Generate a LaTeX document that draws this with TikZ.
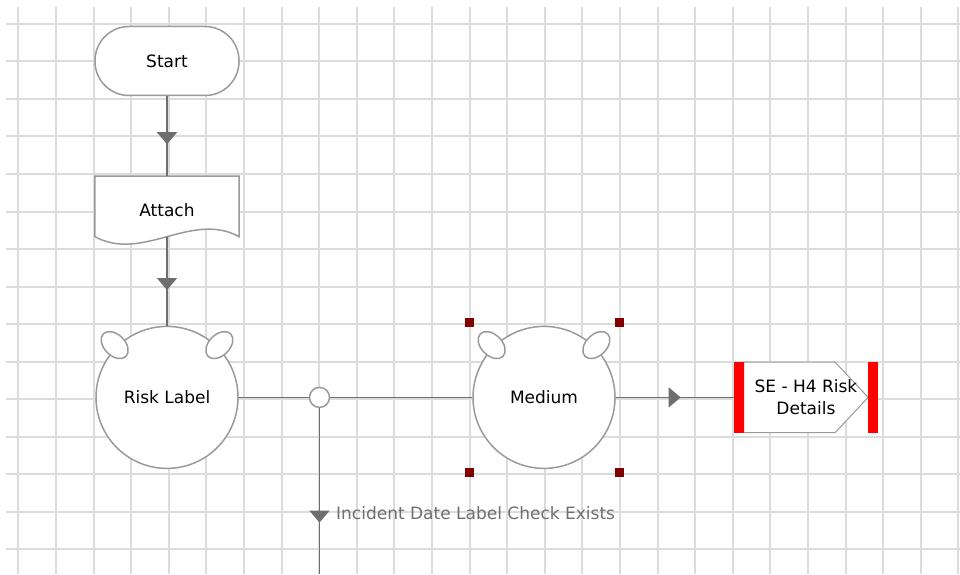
\documentclass[tikz,border=0pt]{standalone}
\usepackage{fontspec}
\setmainfont{DejaVu Sans}
\usepackage{tikz}
\usetikzlibrary{arrows.meta,positioning,calc,shapes.geometric,decorations.markings}

\definecolor{gridgray}{HTML}{DCDCDC}
\definecolor{edgegray}{HTML}{9A9A9A}
\definecolor{linegray}{HTML}{6E6E6E}
\definecolor{handlered}{HTML}{800000}

\begin{document}
\begin{tikzpicture}[x=1pt,y=1pt,
    every node/.style={font=\fontsize{17}{22}\selectfont},
    gridline/.style={draw=gridgray,line width=2pt},
    terminal/.style={rectangle,draw=edgegray,line width=1.5pt,fill=white,rounded corners=34pt,minimum width=144pt,minimum height=69pt},
    docbox/.style={rectangle,minimum width=144pt,minimum height=60pt,inner sep=0pt},
    state/.style={circle,draw=edgegray,line width=1.5pt,fill=white,minimum size=142pt,inner sep=0pt},
    ear/.style={ellipse,draw=edgegray,line width=1.5pt,fill=white,minimum width=32pt,minimum height=21pt,inner sep=0pt},
    joint/.style={circle,draw=edgegray,line width=1.5pt,fill=white,minimum size=20pt,inner sep=0pt},
    handle/.style={rectangle,fill=handlered,minimum size=9pt,inner sep=0pt},
    subproc/.style={rectangle,minimum width=144pt,minimum height=70pt,inner sep=0pt,align=center},
    conn/.style={draw=linegray,line width=1.6pt},
    flow/.style={conn,postaction={decorate},decoration={markings,
        mark=at position #1 with {\arrow[linegray]{Triangle[width=20pt,length=12pt]}}}},
    flow/.default=0.5,
    lbl/.style={text=linegray,inner sep=0pt}]

    \useasboundingbox (0,0) rectangle (960,574);

    % grid
    \foreach \k in {0,...,14}
        \draw[gridline] (6,550-37.5*\k) -- (960,550-37.5*\k);
    \foreach \k in {0,...,25}
        \draw[gridline] (18.3+37.6*\k,567) -- (18.3+37.6*\k,0);

    % nodes
    \node [terminal] (start) at (167,513) {Start};
    \node [docbox, below=80pt of start] (attach) {};
    \node [state, below=89pt of attach] (risk) {Risk Label};
    \node [joint, right=70pt of risk] (junction) {};
    \node [state, right=142pt of junction] (medium) {Medium};
    \node [subproc, right=118pt of medium] (se) {};
    \coordinate (down) at (junction |- 0,0);

    % document shape
    \draw[draw=edgegray,line width=1.5pt,fill=white]
        (attach.north west) -- (attach.north east) -- (attach.south east)
        .. controls +(-48,26) and +(48,-26) .. (attach.south west) -- cycle;
    \node at ([yshift=-4pt]attach.center) {Attach};

    % sub process shape
    \draw[draw=edgegray,line width=1pt,fill=white]
        ([xshift=10pt]se.north west) -- ([xshift=-43pt]se.north east)
        -- ([xshift=-10pt]se.east) -- ([xshift=-43pt]se.south east)
        -- ([xshift=10pt]se.south west) -- cycle;
    \fill[red] (se.north west) rectangle ([xshift=10pt]se.south west);
    \fill[red] ([xshift=-10pt]se.north east) rectangle (se.south east);
    \node [subproc] at (se.center) {SE - H4 Risk\\Details};

    % ears
    \foreach \a in {45,135} {
        \node [ear, rotate=\a] (riskear\a) at ($(risk.center)+(\a:74pt)$) {};
        \node [ear, rotate=\a] (mediumear\a) at ($(medium.center)+(\a:74pt)$) {};
    }

    % selection handles
    \foreach \dx/\dy in {-75/75,75/75,-75/-75,75/-75}
        \node [handle] at ($(medium.center)+(\dx pt,\dy pt)$) {};

    % connectors
    \draw[flow=0.6] (start) -- (attach);
    \draw[flow=0.6] (attach) -- (risk);
    \draw[conn] (risk) -- (junction);
    \draw[conn] (junction) -- (medium);
    \draw[flow=0.55] (medium) -- (se);
    \draw[flow=0.69] (junction) -- (down);

    \node [lbl, anchor=west] (cond) at (336,61) {Incident Date Label Check Exists};
\end{tikzpicture}
\end{document}
